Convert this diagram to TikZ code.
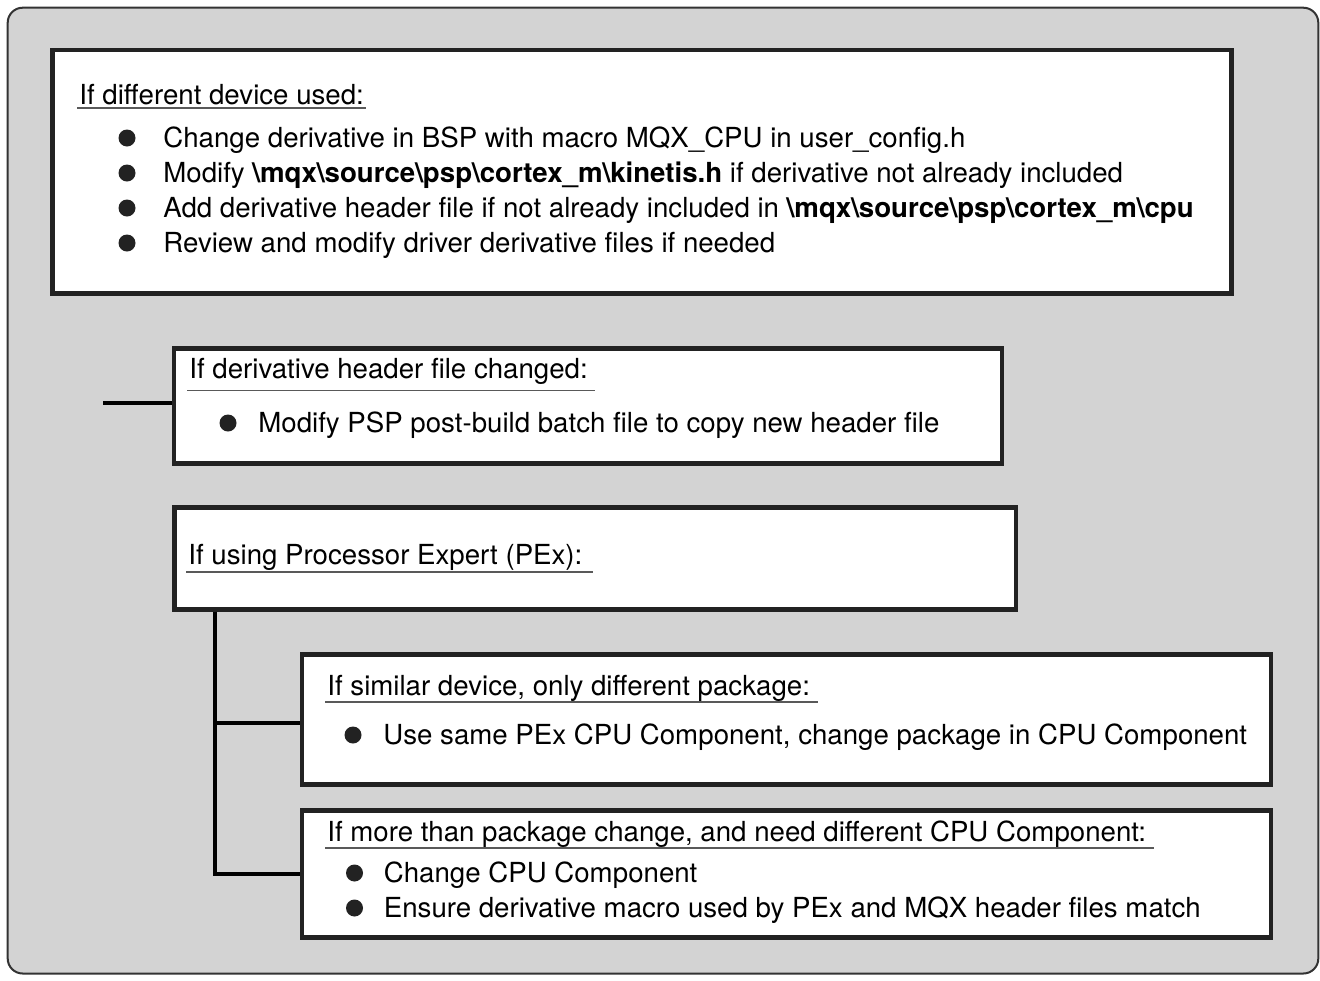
\documentclass[tikz,border=0pt]{standalone}
\usepackage{fontspec}
\setmainfont{TeX Gyre Heros}
\usetikzlibrary{calc}
\definecolor{panelgray}{HTML}{D3D3D3}
\definecolor{boxline}{HTML}{222222}
\tikzset{
  box/.style={draw=boxline, line width=2.25pt, fill=white, rectangle, anchor=north west, inner sep=0pt},
  txt/.style={anchor=base west, inner sep=0pt, font=\fontsize{13.82}{16}\selectfont, text=black},
  uline/.style={draw=black!65, line width=0.6pt},
  conn/.style={draw=black, line width=2pt},
}
\begin{document}
\begin{tikzpicture}[x=0.5pt,y=-0.5pt]
\useasboundingbox (0,0) rectangle (1320,980);
\draw[fill=panelgray, draw=black!80, line width=1pt, rounded corners=7.5pt] (7.7,7.7) rectangle (1318.3,973.5);

% boxes
\node[box, minimum width=589.5pt, minimum height=121.75pt] (devbox) at (50,47.5) {};
\node[box, minimum width=414pt, minimum height=57.5pt] (hdrbox) at (171.7,346) {};
\node[box, minimum width=420.9pt, minimum height=50.85pt] (pexbox) at (172,505.3) {};
\node[box, minimum width=484.55pt, minimum height=65pt] (simbox) at (299.7,652) {};
\node[box, minimum width=484.55pt, minimum height=63.5pt] (cpubox) at (299.7,808) {};

% connectors
\coordinate (stub) at (103.3,402.7);
\draw[conn] (stub) -- (stub -| hdrbox.west);
\coordinate (trunk) at ($(pexbox.south west)+(43.3,0)$);
\draw[conn] (trunk) |- ($(simbox.west)+(0,3.5)$);
\draw[conn] (trunk) |- (cpubox.west);

% texts
\node[txt] (hdev) at (79,104) {If different device used:};
\node[txt] (dev1) at (163,147) {Change derivative in BSP with macro MQX\_CPU in user\_config.h};
\node[txt] (dev2) at (163,182) {Modify \textbf{\textbackslash mqx\textbackslash source\textbackslash psp\textbackslash cortex\_m\textbackslash kinetis.h} if derivative not already included};
\node[txt] (dev3) at (163,217) {Add derivative header file if not already included in \textbf{\textbackslash mqx\textbackslash source\textbackslash psp\textbackslash cortex\_m\textbackslash cpu}};
\node[txt] (dev4) at (163,252) {Review and modify driver derivative files if needed};

\node[txt] (hhdr) at (189,378) {If derivative header file changed:};
\node[txt] (hdr1) at (258,432) {Modify PSP post-build batch file to copy new header file};

\node[txt] (hpex) at (188,564) {If using Processor Expert (PEx):};

\node[txt] (hsim) at (327,695) {If similar device, only different package:};
\node[txt] (sim1) at (383,744) {Use same PEx CPU Component, change package in CPU Component};

\node[txt] (hcpu) at (327,841) {If more than package change, and need different CPU Component:};
\node[txt] (cpu1) at (383.5,882) {Change CPU Component};
\node[txt] (cpu2) at (383.5,917) {Ensure derivative macro used by PEx and MQX header files match};

% underlines and bullets
\foreach \n/\d/\e in {hdev/4/2, hhdr/12.5/7, hpex/8/10, hsim/7/8, hcpu/7/8}
  \draw[uline] ($(\n.base west)+(-2,\d)$) -- ($(\n.base east)+(\e,\d)$);
\foreach \n/\o in {dev1/36, dev2/36, dev3/36, dev4/36, hdr1/30, sim1/30, cpu1/29, cpu2/29}
  \fill[boxline] ($(\n.base west)+(-\o,-9)$) circle (4.25pt);
\end{tikzpicture}
\end{document}
